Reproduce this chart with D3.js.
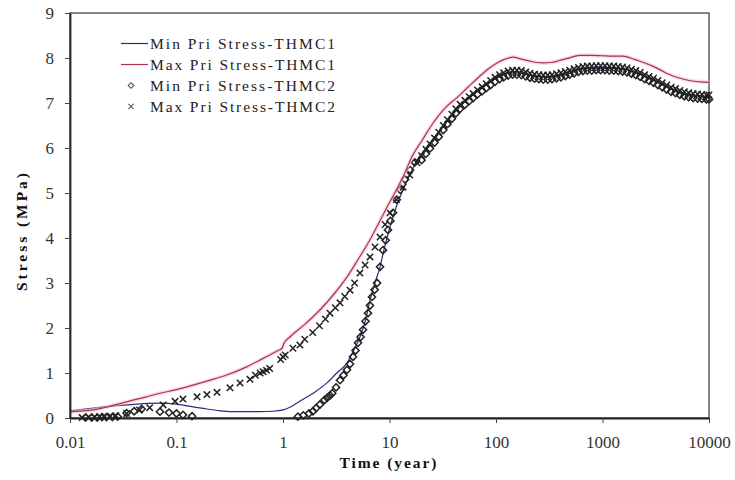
<!DOCTYPE html>
<html>
<head>
<meta charset="utf-8">
<script src="https://cdn.jsdelivr.net/npm/d3@7"></script>
<style>
  html, body { margin: 0; padding: 0; background: #fff; }
  svg { display: block; }
</style>
</head>
<body>
<svg id="chart" width="735" height="480"></svg>
<script>
// ---------------- DATA ----------------
const xTickValues = [0.01, 0.1, 1, 10, 100, 1000, 10000];
const xTickLabels = ["0.01", "0.1", "1", "10", "100", "1000", "10000"];
const yTickValues = [0, 1, 2, 3, 4, 5, 6, 7, 8, 9];
const yTickLabels = ["0", "1", "2", "3", "4", "5", "6", "7", "8", "9"];

const seriesNames = ["Min Pri Stress-THMC1", "Max Pri Stress-THMC1", "Min Pri Stress-THMC2", "Max Pri Stress-THMC2"];

// Min Pri Stress - THMC1 (line)
const minT1Time = [0.01,0.0166,0.034,0.07,0.1,0.126,0.193,0.256,0.4,0.6,0.806,1.0,1.16,1.5,2,2.59,3.2,3.98,4.6,5.28,6,6.56,7.3,8.15,9,10.1,11.6,13.4,15.5,18.1,22,30,43,70,100,130,160,220,300,450,650,1000,1550,2000,3000,4000,5350,7000,10000];
const minT1Stress = [0.16,0.22,0.29,0.33,0.31,0.27,0.2,0.16,0.14,0.14,0.15,0.18,0.24,0.4,0.58,0.78,1.0,1.22,1.5,1.8,2.2,2.62,3.0,3.36,3.8,4.24,4.7,5.07,5.4,5.73,6.0,6.4,6.85,7.3,7.55,7.66,7.67,7.6,7.57,7.63,7.75,7.77,7.75,7.68,7.5,7.35,7.22,7.15,7.12];

// Max Pri Stress - THMC1 (line)
const maxT1Time = [0.01,0.0166,0.02,0.034,0.05,0.07,0.1,0.143,0.2,0.3,0.45,0.61,0.75,0.88,0.98,1.02,1.16,1.6,2.22,3,3.98,5,6.56,8,9.5,11.8,13.4,16.6,20,25.6,33,43,55,70.8,85,102,120,145,170,200,240,275,330,400,500,617,800,1000,1250,1550,2000,2500,2960,3600,4000,4590,5350,6500,8300,10000];
const maxT1Stress = [0.14,0.18,0.22,0.36,0.46,0.55,0.63,0.73,0.83,0.96,1.13,1.29,1.4,1.49,1.55,1.66,1.8,2.08,2.4,2.75,3.13,3.5,3.96,4.35,4.69,5.1,5.36,5.85,6.15,6.55,6.88,7.12,7.36,7.6,7.76,7.89,7.97,8.02,7.98,7.94,7.9,7.89,7.9,7.95,8.01,8.06,8.06,8.05,8.04,8.04,7.97,7.89,7.82,7.72,7.66,7.6,7.55,7.5,7.47,7.46];

// Min Pri Stress - THMC2 (diamonds), early part
const minT2EarlyTime = [0.014,0.016,0.018,0.02,0.022,0.025,0.028,0.034,0.04,0.047,0.07,0.085,0.1,0.115,0.14,1.38,1.55,1.75,1.91,2.05,2.22,2.45,2.6,2.76,2.9,3.15,3.43,3.7,3.99,4.26,4.54,4.8,5.06,5.35,5.64,5.95,6.28,6.55,6.85,7.25,7.64,8.15,8.69,9.2,9.68,10.2,10.8,11.7,12.6,14,15.6,17.3];
const minT2EarlyStress = [0.01,0.01,0.01,0.02,0.02,0.02,0.03,0.11,0.15,0.2,0.14,0.12,0.1,0.07,0.04,0.03,0.06,0.1,0.15,0.22,0.3,0.4,0.45,0.5,0.55,0.68,0.84,0.95,1.07,1.2,1.36,1.5,1.67,1.8,1.96,2.15,2.33,2.5,2.69,2.85,3.0,3.36,3.73,3.95,4.18,4.38,4.56,4.85,5.07,5.3,5.51,5.68];

// Max Pri Stress - THMC2 (crosses), early part
const maxT2EarlyTime = [0.013,0.015,0.017,0.019,0.021,0.024,0.027,0.034,0.045,0.056,0.075,0.097,0.115,0.156,0.193,0.24,0.318,0.395,0.49,0.55,0.61,0.65,0.7,0.75,0.95,1.0,1.05,1.24,1.44,1.6,1.9,2.2,2.5,2.76,3.1,3.43,3.8,4.26,4.7,5.28,5.9,6.56,7.3,8.15,9.1,10.1,11.6,13.4,15.5,18.1];
const maxT2EarlyStress = [0.01,0.02,0.02,0.03,0.03,0.04,0.05,0.1,0.18,0.23,0.29,0.37,0.42,0.47,0.52,0.57,0.67,0.78,0.86,0.95,1.0,1.03,1.06,1.1,1.3,1.36,1.4,1.55,1.62,1.75,1.9,2.05,2.2,2.33,2.45,2.56,2.7,2.84,3.0,3.22,3.4,3.58,3.8,4.02,4.3,4.56,4.85,5.13,5.4,5.67];

// THMC2 late-time samples (both series)
const t2LateTime = [20,22,24,26.5,29,32,35,38.5,42,46,51,56,61,67,74,81,89,98,108,118,130,143,157,173,190,209,230,253,278,306,336,370,407,448,492,541,595,655,720,792,872,959,1055,1160,1276,1404,1544,1699,1869,2055,2261,2487,2736,3009,3310,3641,4005,4406,4846,5331,5864,6451,7096,7805,8586,9444,10000];
const minT2LateStress = [5.73,5.87,5.99,6.12,6.25,6.40,6.53,6.65,6.77,6.87,6.96,7.04,7.11,7.19,7.26,7.33,7.40,7.47,7.53,7.57,7.61,7.63,7.63,7.62,7.59,7.56,7.54,7.53,7.52,7.52,7.53,7.55,7.57,7.60,7.63,7.66,7.69,7.71,7.72,7.72,7.73,7.73,7.73,7.72,7.72,7.71,7.70,7.68,7.65,7.62,7.58,7.53,7.49,7.45,7.40,7.35,7.30,7.25,7.22,7.18,7.15,7.13,7.11,7.10,7.09,7.08,7.08];
const maxT2LateStress = [5.83,5.97,6.09,6.22,6.35,6.50,6.63,6.75,6.87,6.97,7.06,7.14,7.21,7.29,7.36,7.43,7.50,7.57,7.63,7.67,7.71,7.73,7.73,7.72,7.69,7.66,7.64,7.63,7.62,7.62,7.63,7.65,7.67,7.70,7.73,7.76,7.79,7.81,7.82,7.82,7.83,7.83,7.83,7.82,7.82,7.81,7.80,7.78,7.75,7.72,7.68,7.63,7.59,7.55,7.50,7.45,7.40,7.35,7.32,7.28,7.25,7.23,7.21,7.20,7.19,7.18,7.18];

// ---------------- CHART ----------------
const svg = d3.select("#chart");
const serif = "'Liberation Serif', 'Times New Roman', serif";

const x = d3.scaleLog().domain([0.01, 10000]).range([70, 709]);
const y = d3.scaleLinear().domain([0, 9]).range([418, 13]);

const zip = (ts, vs) => ts.map((t, i) => ({ t, v: vs[i] }));
const minT1 = zip(minT1Time, minT1Stress);
const maxT1 = zip(maxT1Time, maxT1Stress);
const minT2 = zip(minT2EarlyTime, minT2EarlyStress).concat(zip(t2LateTime, minT2LateStress));
const maxT2 = zip(maxT2EarlyTime, maxT2EarlyStress).concat(zip(t2LateTime, maxT2LateStress));

const line = d3.line().x(d => x(d.t)).y(d => y(d.v)).curve(d3.curveMonotoneX);

const blue = "#2c2c7c";
const red = "#b0304c";
const mk = "#222";

// frame
svg.append("rect").attr("x", 70).attr("y", 13).attr("width", 639).attr("height", 405)
  .attr("fill", "none").attr("stroke", "#333").attr("stroke-width", 1.2);

// Blue line (under markers)
svg.append("path").datum(minT1).attr("d", line)
  .attr("fill", "none").attr("stroke", blue).attr("stroke-width", 1.2);

const diamond = (cx, cy, r) => `M${cx},${cy - r}L${cx + r},${cy}L${cx},${cy + r}L${cx - r},${cy}Z`;
const cross = (cx, cy, r) => `M${cx - r},${cy - r}L${cx + r},${cy + r}M${cx - r},${cy + r}L${cx + r},${cy - r}`;

svg.append("g").selectAll("path").data(minT2).join("path")
  .attr("d", d => diamond(x(d.t), y(d.v), 3.6))
  .attr("fill", "none").attr("stroke", mk).attr("stroke-width", 1.5);

svg.append("g").selectAll("path").data(maxT2).join("path")
  .attr("d", d => cross(x(d.t), y(d.v), 3.2))
  .attr("fill", "none").attr("stroke", mk).attr("stroke-width", 1.5);

// Red line with faint halo
svg.append("path").datum(maxT1).attr("d", line)
  .attr("fill", "none").attr("stroke", "#f4c6d0").attr("stroke-width", 4).attr("opacity", 0.6);
svg.append("path").datum(maxT1).attr("d", line)
  .attr("fill", "none").attr("stroke", red).attr("stroke-width", 1.2);

// Axes
const xAxis = d3.axisBottom(x).tickValues(xTickValues)
  .tickFormat((d, i) => xTickLabels[i]).tickSize(5).tickSizeOuter(0);
const gx = svg.append("g").attr("transform", "translate(0,418)").call(xAxis);
gx.select(".domain").attr("stroke", "#222").attr("stroke-width", 1.8);
gx.selectAll(".tick line").attr("stroke", "#444");
gx.selectAll(".tick text").attr("y", 30).attr("dy", 0)
  .attr("font-family", serif).attr("font-size", 17).attr("fill", "#333");

const yAxis = d3.axisLeft(y).tickValues(yTickValues)
  .tickFormat((d, i) => yTickLabels[i]).tickSize(5).tickSizeOuter(0).tickPadding(11);
const gy = svg.append("g").attr("transform", "translate(70,0)").call(yAxis);
gy.select(".domain").attr("stroke", "#222").attr("stroke-width", 1.8);
gy.selectAll(".tick line").attr("stroke", "#444");
gy.selectAll(".tick text").attr("font-family", serif).attr("font-size", 17).attr("fill", "#333");

// Axis titles
svg.append("text").attr("x", 388).attr("y", 468).attr("text-anchor", "middle")
  .attr("font-family", serif).attr("font-weight", "bold").attr("font-size", 15.5).attr("fill", "#111")
  .attr("textLength", 97).attr("lengthAdjust", "spacing")
  .text("Time (year)");
svg.append("text").attr("transform", "translate(27,232) rotate(-90)").attr("text-anchor", "middle")
  .attr("font-family", serif).attr("font-weight", "bold").attr("font-size", 15.5).attr("fill", "#111")
  .attr("textLength", 118).attr("lengthAdjust", "spacing")
  .text("Stress (MPa)");

// Legend
const legend = svg.append("g");
const rows = [49, 70, 91, 112];
seriesNames.forEach((name, i) => {
  const cy = rows[i] - 5.5;
  if (i === 0 || i === 1) {
    legend.append("line").attr("x1", 121).attr("x2", 148).attr("y1", cy).attr("y2", cy)
      .attr("stroke", i === 0 ? blue : red).attr("stroke-width", 1.2);
  } else if (i === 2) {
    legend.append("path").attr("d", diamond(131, cy, 2.8)).attr("fill", "none")
      .attr("stroke", "#555").attr("stroke-width", 1.1);
  } else {
    legend.append("path").attr("d", cross(131, cy, 2.6)).attr("fill", "none")
      .attr("stroke", "#555").attr("stroke-width", 1.1);
  }
  legend.append("text").attr("x", 150).attr("y", rows[i])
    .attr("font-family", serif).attr("font-size", 15.5).attr("fill", "#222")
    .attr("textLength", 185).attr("lengthAdjust", "spacing")
    .text(name);
});
</script>
</body>
</html>
